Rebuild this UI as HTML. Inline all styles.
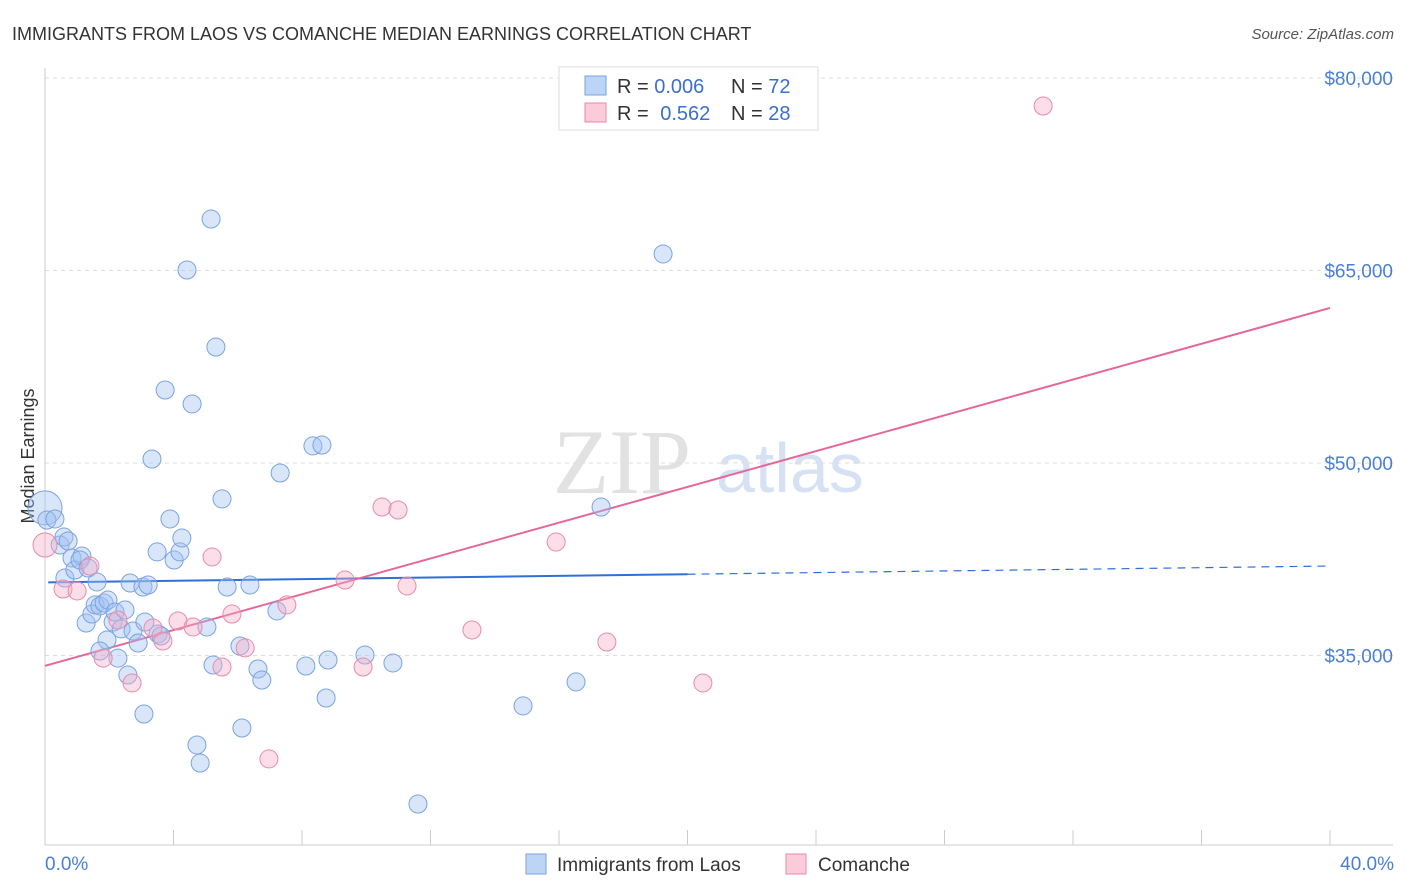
<!DOCTYPE html>
<html><head><meta charset="utf-8"><style>
body{margin:0;background:#fff;font-family:"Liberation Sans",sans-serif;}
svg{display:block}
</style></head><body>
<svg id="chart" width="1406" height="892">
<text x="12" y="40" font-size="18" fill="#333">IMMIGRANTS FROM LAOS VS COMANCHE MEDIAN EARNINGS CORRELATION CHART</text>
<text x="1394" y="39" font-size="15" fill="#555" font-style="italic" text-anchor="end">Source: ZipAtlas.com</text>
<text x="34" y="456" font-size="18" fill="#333" text-anchor="middle" transform="rotate(-90 34 456)">Median Earnings</text>
<g>
<text x="553" y="493" font-size="92" font-family="Liberation Serif,serif" fill="#e2e2e2">ZIP</text>
<text x="716" y="492" font-size="70" fill="#d6e2f4">atlas</text>
</g>
<g id="grid"></g>
<g id="axes"></g>
<g id="trend"></g>
<g id="points"></g>
<g>
<rect x="559" y="67" width="259" height="63" fill="#fff" stroke="#ddd"/>
<rect x="585" y="76" width="21" height="19" fill="#bcd4f5" stroke="#7aa3e0"/>
<rect x="585" y="103" width="21" height="19" fill="#fbcbda" stroke="#e88aac"/>
<text x="617" y="93" font-size="20" fill="#333">R = <tspan fill="#3a6fcf">0.006</tspan></text>
<text x="731" y="93" font-size="20" fill="#333">N = <tspan fill="#3a6fcf">72</tspan></text>
<text x="617" y="120" font-size="20" fill="#333">R = <tspan fill="#3a6fcf" dx="6">0.562</tspan></text>
<text x="731" y="120" font-size="20" fill="#333">N = <tspan fill="#3a6fcf">28</tspan></text>
</g>
<g>
<rect x="526" y="854" width="20" height="20" fill="#bcd4f5" stroke="#7aa3e0"/>
<text x="557" y="871" font-size="19" fill="#333">Immigrants from Laos</text>
<rect x="786" y="854" width="20" height="20" fill="#fbcbda" stroke="#e88aac"/>
<text x="818" y="871" font-size="19" fill="#333">Comanche</text>
</g>
</svg>
<script>
const yTicks=[35000,50000,65000,80000];
const yTickLabels=["$35,000","$50,000","$65,000","$80,000"];
const xTickVals=[0,4,8,12,16,20,24,28,32,36,40];
const xEndLabels=["0.0%","40.0%"];
const laosX=[0,0.06,0.31,0.47,0.59,0.72,0.62,0.84,0.93,1.15,1.09,1.34,1.62,1.28,1.46,1.56,1.71,1.84,1.96,1.93,1.71,2.12,2.18,2.27,2.37,2.49,2.58,2.65,2.74,2.90,3.05,3.21,3.11,3.08,3.33,3.49,3.52,3.61,3.74,3.89,4.02,4.20,4.26,4.42,4.58,4.73,4.83,5.04,5.17,5.23,5.32,5.51,5.67,6.13,6.07,6.38,6.63,6.75,7.22,7.32,8.12,8.34,8.62,8.75,8.81,9.96,10.83,11.61,14.88,16.53,17.31,19.24];
const laosY=[46500,45560,45640,43610,44230,43920,41040,42600,41660,42750,42440,41820,40730,37530,38230,38940,38860,39090,39320,36210,35350,37610,38390,34800,37070,38550,33480,40650,36910,35970,40340,40490,37610,30440,50310,43070,36680,36520,55690,45640,42440,43070,44160,65040,54600,28030,26620,37220,69010,34260,59040,47200,40340,29350,35740,40490,33950,33090,38470,49220,34180,51330,51400,31690,34650,35040,34420,23430,31070,32940,46570,66290];
const comX=[0,0.56,1.00,1.40,1.81,2.27,2.71,3.36,3.67,4.14,4.61,5.20,5.51,5.82,6.23,6.97,7.53,9.34,9.90,10.49,10.99,11.27,13.29,15.91,17.49,20.48,31.07];
const comY=[43610,40180,40030,41970,34800,37770,32860,37140,36130,37690,37220,42680,34100,38230,35590,26940,38940,40880,34100,46570,46340,40420,36990,43840,36050,32860,77820];
const NS="http://www.w3.org/2000/svg";
const X0=45,X1=1330,Y80=78,PXPER=192.5/15000;
const sx=v=>X0+(v/40)*(X1-X0);
const sy=v=>Y80+(80000-v)*PXPER;
function mk(tag,attrs,parent){const e=document.createElementNS(NS,tag);for(const k in attrs)e.setAttribute(k,attrs[k]);parent.appendChild(e);return e;}
const grid=document.getElementById('grid'),axes=document.getElementById('axes'),trend=document.getElementById('trend'),pts=document.getElementById('points');
yTicks.forEach((t,i)=>{
 const l=mk('line',{x1:45,x2:1393,y1:sy(t),y2:sy(t),stroke:'#ddd','stroke-dasharray':'4,4'},grid);
 
 
 const tx=mk('text',{x:1393,y:sy(t)+7,'font-size':19,fill:'#4a7fd4','text-anchor':'end'},axes);
 tx.textContent=yTickLabels[i];
 
 
});
const ya=mk('line',{x1:45,x2:45,y1:68,y2:845,stroke:'#ccc'},axes);


const xa=mk('line',{x1:45,x2:1393,y1:845,y2:845,stroke:'#ccc'},axes);


xTickVals.forEach(v=>{
 const t=mk('line',{x1:sx(v),x2:sx(v),y1:830,y2:845,stroke:'#ccc'},axes);
 
 
});
const xl0=mk('text',{x:45,y:870,'font-size':19,fill:'#4a7fd4'},axes);xl0.textContent=xEndLabels[0];


const xl1=mk('text',{x:1394,y:870,'font-size':19,fill:'#4a7fd4','text-anchor':'end'},axes);xl1.textContent=xEndLabels[1];


function fit(xs,ys){const n=xs.length;let mx=0,my=0;for(let i=0;i<n;i++){mx+=xs[i];my+=ys[i];}mx/=n;my/=n;let a=0,b=0;for(let i=0;i<n;i++){a+=(xs[i]-mx)*(ys[i]-my);b+=(xs[i]-mx)**2;}const s=a/b;return [s,my-s*mx];}
const [sb,ib]=fit(laosX,laosY);
const bl1=mk('line',{x1:sx(0.1),y1:sy(ib+sb*0.1),x2:sx(20),y2:sy(ib+sb*20),stroke:'#2f6fd6','stroke-width':2},trend);


const bl2=mk('line',{x1:sx(20),y1:sy(ib+sb*20),x2:sx(40),y2:sy(ib+sb*40),stroke:'#2f6fd6','stroke-width':1.2,'stroke-dasharray':'8,6'},trend);


const [sp,ip]=fit(comX,comY);
const pl=mk('line',{x1:sx(0),y1:sy(ip),x2:sx(40),y2:sy(ip+sp*40),stroke:'#e5679a','stroke-width':2},trend);


laosX.forEach((x,i)=>{
 const c=mk('circle',{cx:sx(x),cy:sy(laosY[i]),r:i===0?17:9,fill:'rgba(160,192,242,0.4)',stroke:'#7aa3e0','stroke-width':1},pts);
 
 
});
comX.forEach((x,i)=>{
 const c=mk('circle',{cx:sx(x),cy:sy(comY[i]),r:i===0?12:9,fill:'rgba(246,172,198,0.4)',stroke:'#e88aac','stroke-width':1},pts);
 
 
});
</script>
</body></html>
